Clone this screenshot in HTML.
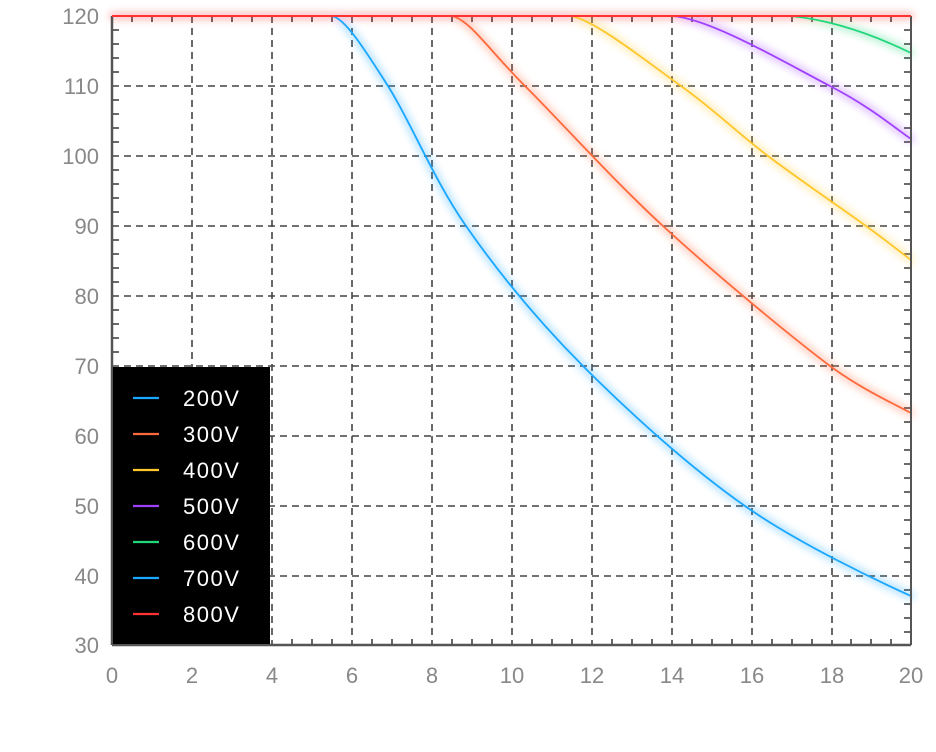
<!DOCTYPE html>
<html><head><meta charset="utf-8"><style>
html,body{margin:0;padding:0;background:#fff;}
svg{display:block;font-family:"Liberation Sans","DejaVu Sans",sans-serif;}
</style></head><body>
<svg width="936" height="752" viewBox="0 0 936 752" xmlns="http://www.w3.org/2000/svg">
<defs>
<filter id="g" x="-20%" y="-20%" width="140%" height="140%"><feGaussianBlur stdDeviation="4"/></filter>
</defs>
<g stroke="#444" stroke-width="1.6" stroke-dasharray="7,5" fill="none">
<line x1="112" y1="86" x2="911" y2="86"/><line x1="112" y1="156" x2="911" y2="156"/>
<line x1="112" y1="226" x2="911" y2="226"/><line x1="112" y1="296" x2="911" y2="296"/>
<line x1="112" y1="366" x2="911" y2="366"/><line x1="112" y1="436" x2="911" y2="436"/>
<line x1="112" y1="506" x2="911" y2="506"/><line x1="112" y1="576" x2="911" y2="576"/>
<line x1="192" y1="16" x2="192" y2="645"/><line x1="272" y1="16" x2="272" y2="645"/>
<line x1="352" y1="16" x2="352" y2="645"/><line x1="432" y1="16" x2="432" y2="645"/>
<line x1="512" y1="16" x2="512" y2="645"/><line x1="592" y1="16" x2="592" y2="645"/>
<line x1="672" y1="16" x2="672" y2="645"/><line x1="752" y1="16" x2="752" y2="645"/>
<line x1="832" y1="16" x2="832" y2="645"/>
</g>
<path stroke="#555" stroke-width="1.8" fill="none" d="
M132,16v6M152,16v6M172,16v6M212,16v6M232,16v6M252,16v6M292,16v6M312,16v6M332,16v6M372,16v6M392,16v6M412,16v6M452,16v6M472,16v6M492,16v6M532,16v6M552,16v6M572,16v6M612,16v6M632,16v6M652,16v6M692,16v6M712,16v6M732,16v6M772,16v6M792,16v6M812,16v6M851,16v6M871,16v6M891,16v6
M132,645v-6M152,645v-6M172,645v-6M212,645v-6M232,645v-6M252,645v-6M292,645v-6M312,645v-6M332,645v-6M372,645v-6M392,645v-6M412,645v-6M452,645v-6M472,645v-6M492,645v-6M532,645v-6M552,645v-6M572,645v-6M612,645v-6M632,645v-6M652,645v-6M692,645v-6M712,645v-6M732,645v-6M772,645v-6M792,645v-6M812,645v-6M851,645v-6M871,645v-6M891,645v-6
M112,30h7M112,44h7M112,58h7M112,72h7M112,100h7M112,114h7M112,128h7M112,142h7M112,170h7M112,184h7M112,198h7M112,212h7M112,240h7M112,254h7M112,268h7M112,282h7M112,310h7M112,324h7M112,338h7M112,352h7M112,380h7M112,394h7M112,408h7M112,422h7M112,450h7M112,464h7M112,478h7M112,492h7M112,520h7M112,534h7M112,548h7M112,562h7M112,590h7M112,604h7M112,618h7M112,632h7
M911,30h-7M911,44h-7M911,58h-7M911,72h-7M911,100h-7M911,114h-7M911,128h-7M911,142h-7M911,170h-7M911,184h-7M911,198h-7M911,212h-7M911,240h-7M911,254h-7M911,268h-7M911,282h-7M911,310h-7M911,324h-7M911,338h-7M911,352h-7M911,380h-7M911,394h-7M911,408h-7M911,422h-7M911,450h-7M911,464h-7M911,478h-7M911,492h-7M911,520h-7M911,534h-7M911,548h-7M911,562h-7M911,590h-7M911,604h-7M911,618h-7M911,632h-7"/>
<g fill="none" stroke-linecap="round">
<g filter="url(#g)" stroke-width="7" opacity="0.35">
<path stroke="#1aa7ff" d="M332,16 C345,18 365.7,51 388,86 C410.3,121 433.5,179.3 466,226 C498.5,272.7 536.5,319.3 583,366 C629.5,412.7 690.3,467.7 745,506 C799.7,544.3 880,582 911,596"/>
<path stroke="#ff6a3d" d="M452,16 C470,20 489.8,51 525,86 C560.2,121 612.2,179.3 663,226 C713.8,272.7 788.7,334.8 830,366 C860,388 890,402 911,413"/>
<path stroke="#ffc72c" d="M571,16 C595,20 648.2,62.7 681,86 C713.8,109.3 737.2,132.7 768,156 C798.8,179.3 842.2,208.7 866,226 C880,236 898,250 911,260"/>
<path stroke="#a040ff" d="M672,16 C710,18 790.2,65.5 830,86 C869.8,106.5 895,128 911,139"/>
<path stroke="#20d67a" d="M791,16 C830,20 870,33 911,53"/>
<line stroke="#ff3333" x1="112" y1="16" x2="911" y2="16"/>
</g>
<g stroke-width="1.8">
<path stroke="#1aa7ff" d="M332,16 C345,18 365.7,51 388,86 C410.3,121 433.5,179.3 466,226 C498.5,272.7 536.5,319.3 583,366 C629.5,412.7 690.3,467.7 745,506 C799.7,544.3 880,582 911,596"/>
<path stroke="#ff6a3d" d="M452,16 C470,20 489.8,51 525,86 C560.2,121 612.2,179.3 663,226 C713.8,272.7 788.7,334.8 830,366 C860,388 890,402 911,413"/>
<path stroke="#ffc72c" d="M571,16 C595,20 648.2,62.7 681,86 C713.8,109.3 737.2,132.7 768,156 C798.8,179.3 842.2,208.7 866,226 C880,236 898,250 911,260"/>
<path stroke="#a040ff" d="M672,16 C710,18 790.2,65.5 830,86 C869.8,106.5 895,128 911,139"/>
<path stroke="#20d67a" d="M791,16 C830,20 870,33 911,53"/>
</g>
</g>
<line x1="911" y1="16" x2="911" y2="645" stroke="#555" stroke-width="2"/>
<line x1="112" y1="16" x2="112" y2="645" stroke="#555" stroke-width="2.5"/>
<line x1="112" y1="645" x2="911" y2="645" stroke="#555" stroke-width="2.5"/>
<line x1="112" y1="16" x2="911" y2="16" stroke="#ff3333" stroke-width="2"/>
<rect x="113" y="367" width="157" height="277" fill="#000"/>
<g stroke-width="2.2">
<line x1="133" x2="159" y1="398" y2="398" stroke="#1aa7ff"/>
<line x1="133" x2="159" y1="434" y2="434" stroke="#ff6a3d"/>
<line x1="133" x2="159" y1="470" y2="470" stroke="#ffc72c"/>
<line x1="133" x2="159" y1="506" y2="506" stroke="#a040ff"/>
<line x1="133" x2="159" y1="542" y2="542" stroke="#20d67a"/>
<line x1="133" x2="159" y1="578" y2="578" stroke="#1aa7ff"/>
<line x1="133" x2="159" y1="614" y2="614" stroke="#ff3333"/>
</g>
<g fill="#fff" font-size="22" letter-spacing="1.5">
<text x="183" y="406">200V</text><text x="183" y="442">300V</text>
<text x="183" y="478">400V</text><text x="183" y="514">500V</text>
<text x="183" y="550">600V</text><text x="183" y="586">700V</text>
<text x="183" y="622">800V</text>
</g>
<g fill="#888" font-size="22" text-anchor="end">
<text x="99" y="24">120</text><text x="99" y="94">110</text><text x="99" y="164">100</text>
<text x="99" y="234">90</text><text x="99" y="304">80</text><text x="99" y="374">70</text>
<text x="99" y="444">60</text><text x="99" y="514">50</text><text x="99" y="584">40</text>
<text x="99" y="653">30</text>
</g>
<g fill="#888" font-size="22" text-anchor="middle">
<text x="112" y="683">0</text><text x="192" y="683">2</text><text x="272" y="683">4</text>
<text x="352" y="683">6</text><text x="432" y="683">8</text><text x="512" y="683">10</text>
<text x="592" y="683">12</text><text x="672" y="683">14</text><text x="752" y="683">16</text>
<text x="832" y="683">18</text><text x="911" y="683">20</text>
</g>
</svg>
</body></html>
